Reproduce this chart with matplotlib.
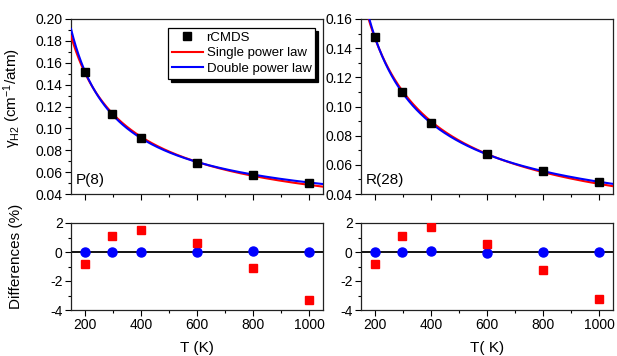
import numpy as np
import matplotlib
matplotlib.use("Agg")
import matplotlib.pyplot as plt
from matplotlib.ticker import MultipleLocator

plt.rcParams['font.family'] = ['Liberation Sans', 'DejaVu Sans']
plt.rcParams['mathtext.fontset'] = 'custom'
plt.rcParams['mathtext.rm'] = 'Liberation Sans'
plt.rcParams['mathtext.it'] = 'Liberation Sans:italic'
plt.rcParams['axes.unicode_minus'] = False

# ---------------- data ----------------
T = [200, 296, 400, 600, 800, 1000]

# P(8)
gamma_P8 = [0.152, 0.113, 0.0912, 0.0686, 0.057, 0.050]
diff_single_P8 = [-0.8, 1.08, 1.5, 0.62, -1.1, -3.3]
diff_double_P8 = [0.0, 0.02, -0.02, 0.0, 0.05, -0.02]
# single power law: g0, n ; double power law: c1, n1, c2, n2
single_P8 = (0.1142, 0.706)
double_P8 = (0.0701, 1.0, 0.0429, 0.3)

# R(28)
gamma_R28 = [0.1474, 0.110, 0.0884, 0.0671, 0.0559, 0.0485]
diff_single_R28 = [-0.85, 1.13, 1.7, 0.53, -1.24, -3.24]
diff_double_R28 = [0.0, -0.02, 0.08, -0.05, -0.03, 0.03]
single_R28 = (0.1112, 0.7083)
double_R28 = (0.06035, 1.0, 0.04965, 0.4)

T_ref = 296.0
labels = ['P(8)', 'R(28)']
xlabels = ['T (K)', 'T( K)']

# ---------------- figure ----------------
W, H = 617, 356
fig = plt.figure(figsize=(W / 100, H / 100), dpi=100)


def frac(x0, y0, x1, y1):
    return [x0 / W, 1 - y1 / H, (x1 - x0) / W, (y1 - y0) / H]


ax_top = [fig.add_axes(frac(71, 19, 323, 194)), fig.add_axes(frac(361, 19, 613, 194))]
ax_bot = [fig.add_axes(frac(71, 223, 323, 310)), fig.add_axes(frac(361, 223, 613, 310))]

tick_fs = 10
label_fs = 11

sets = [
    (gamma_P8, diff_single_P8, diff_double_P8, single_P8, double_P8, (0.04, 0.20)),
    (gamma_R28, diff_single_R28, diff_double_R28, single_R28, double_R28, (0.04, 0.16)),
]

Tc = np.linspace(150, 1050, 400)

for i, (g, ds, dd, sp, dp, ylim) in enumerate(sets):
    ax = ax_top[i]
    x = T_ref / Tc
    y_single = sp[0] * x ** sp[1]
    y_double = dp[0] * x ** dp[1] + dp[2] * x ** dp[3]
    ax.plot(T, g, 's', color='black', ms=6, zorder=5, label='rCMDS')
    ax.plot(Tc, y_single, '-', color='#ff0000', lw=1.5, label='Single power law', zorder=3)
    ax.plot(Tc, y_double, '-', color='#0000ff', lw=1.5, label='Double power law', zorder=4)
    ax.set_xlim(150, 1050)
    ax.set_ylim(*ylim)
    ax.yaxis.set_major_locator(MultipleLocator(0.02))
    ax.yaxis.set_minor_locator(MultipleLocator(0.01))
    ax.yaxis.set_major_formatter(matplotlib.ticker.FormatStrFormatter('%.2f'))
    ax.tick_params(axis='x', labelbottom=False)
    ax.text(0.02, 0.04, labels[i], transform=ax.transAxes, fontsize=label_fs, ha='left', va='bottom')

    axb = ax_bot[i]
    axb.axhline(0, color='black', lw=1.3, zorder=1)
    axb.plot(T, dd, 'o', color='#0000ff', ms=6.5, zorder=3)
    axb.plot(T, ds, 's', color='#ff0000', ms=5.5, zorder=4)
    axb.set_xlim(150, 1050)
    axb.set_ylim(-4, 2)
    axb.yaxis.set_major_locator(MultipleLocator(2))
    axb.yaxis.set_minor_locator(MultipleLocator(1))
    axb.set_xlabel(xlabels[i], fontsize=label_fs, labelpad=6)

for ax in ax_top + ax_bot:
    ax.xaxis.set_major_locator(MultipleLocator(200))
    ax.xaxis.set_minor_locator(MultipleLocator(100))
    ax.tick_params(which='major', direction='out', length=4, width=0.8, labelsize=tick_fs, pad=2)
    ax.tick_params(which='minor', direction='out', length=2.5, width=0.8)
    ax.tick_params(top=False, right=False, which='both')
    for s in ax.spines.values():
        s.set_linewidth(0.9)
        s.set_color('#222222')

ax_top[0].set_ylabel('γ$_{\\mathrm{H2}}$ (cm$^{-1}$/atm)', fontsize=label_fs)
ax_top[0].yaxis.set_label_coords(-0.19, 0.55)
ax_bot[0].set_ylabel('Differences (%)', fontsize=label_fs)
ax_bot[0].yaxis.set_label_coords(-0.19, 0.62)

leg = ax_top[0].legend(loc='upper right', bbox_to_anchor=(0.97, 0.95), fontsize=9.5,
                       frameon=True, fancybox=False, edgecolor='black',
                       shadow={'color': 'black', 'alpha': 1.0, 'ox': 2, 'oy': -2},
                       handlelength=2.3, handletextpad=0.3, borderpad=0.3,
                       labelspacing=0.25, borderaxespad=0.0, markerscale=0.85)
leg.get_frame().set_linewidth(0.9)

fig.savefig('out.png', dpi=100)
